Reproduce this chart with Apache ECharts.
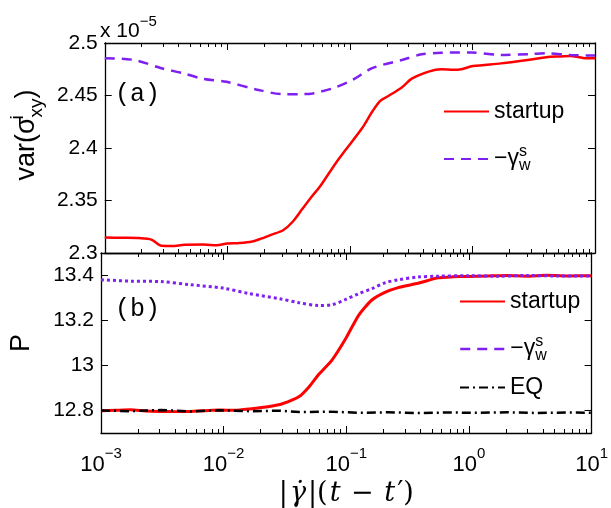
<!DOCTYPE html>
<html>
<head>
<meta charset="utf-8">
<script src="https://cdn.jsdelivr.net/npm/echarts@6/dist/echarts.min.js"></script>
<style>html,body{margin:0;padding:0;background:#fff}#c{width:611px;height:508px}</style>
</head>
<body>
<div id="c"></div>
<script>
// ---- data (panel a: var(sigma_xy^i) in units of 1e-5) ----
var aStartupX = [0.001,0.0014,0.0019,0.0024,0.0029,0.0035,0.0045,0.0064,0.0082,0.0100,0.0126,0.0160,0.0186,0.0230,0.0285,0.0343,0.0413,0.0498,0.0568,0.0764,0.092,0.126,0.152,0.176,0.201,0.265,0.32,0.439,0.558,0.70,0.81,1.01,1.71,2.82,4.33,5.2,6.28,8.0,10];
var aStartupY = [2.3147,2.3145,2.3142,2.3128,2.3068,2.3066,2.3078,2.3080,2.3074,2.3090,2.3095,2.3110,2.3134,2.3175,2.3217,2.3300,2.3426,2.3550,2.3630,2.3853,2.3980,2.4190,2.4345,2.4447,2.4488,2.4577,2.4660,2.4727,2.4750,2.4745,2.4750,2.4780,2.4806,2.4838,2.4870,2.4872,2.4876,2.4858,2.4854];
var aGammaX = [0.001,0.001745,0.00289,0.00443,0.00642,0.00986,0.01722,0.0285,0.0413,0.0498,0.0722,0.1047,0.152,0.265,0.385,0.558,0.977,1.71,2.98,3.95,6.28,10];
var aGammaY = [2.4855,2.4838,2.4760,2.4710,2.4657,2.4630,2.4558,2.4513,2.4513,2.4520,2.4568,2.4647,2.4760,2.4838,2.4892,2.4907,2.4910,2.4886,2.4895,2.4902,2.4886,2.4880];
// ---- data (panel b: P) ----
var bStartupX = [0.001,0.00132,0.001745,0.00231,0.00305,0.00404,0.00533,0.00705,0.00933,0.01233,0.01629,0.02364,0.0301,0.0413,0.0498,0.06,0.0764,0.099,0.126,0.1607,0.2084,0.265,0.3648,0.4645,0.558,0.7396,0.977,1.419,2.056,2.98,4.325,6.28,10];
var bStartupY = [12.799,12.801,12.803,12.798,12.796,12.795,12.796,12.799,12.802,12.801,12.807,12.818,12.830,12.862,12.906,12.962,13.024,13.120,13.223,13.290,13.326,13.346,13.363,13.378,13.390,13.394,13.396,13.398,13.400,13.397,13.401,13.398,13.399];
var bGammaX = [0.001,0.001745,0.00305,0.00533,0.00986,0.01629,0.0285,0.0413,0.06,0.0764,0.099,0.126,0.1607,0.2084,0.265,0.385,0.558,0.977,1.71,2.98,5.2,10];
var bGammaY = [13.381,13.375,13.373,13.359,13.344,13.319,13.297,13.279,13.267,13.270,13.294,13.319,13.341,13.368,13.381,13.393,13.397,13.399,13.397,13.400,13.398,13.398];
var eqX = [0.001,0.001745,0.00305,0.00533,0.00933,0.01629,0.0285,0.0413,0.0722,0.126,0.2204,0.385,0.673,1.177,2.056,3.595,6.28,10];
var eqY = [12.800,12.797,12.802,12.796,12.801,12.797,12.799,12.793,12.795,12.790,12.792,12.789,12.791,12.790,12.792,12.789,12.791,12.790];
// tick labels
var aTicks = [2.3,2.35,2.4,2.45,2.5];
var bTicks = [12.8,13,13.2,13.4];
var xDecades = [0.001,0.01,0.1,1,10];

function zip(xs, ys){ return xs.map(function(x,i){ return [x, ys[i]]; }); }
var minorLog = [];
for (var d = -3; d < 1; d++) for (var m = 2; m <= 9; m++) minorLog.push(d + Math.log10(m));

var FONT = 'Liberation Sans';
var RED = '#ff0000', PUR = '#7f1ff0';
var chart = echarts.init(document.getElementById('c'));

function majorX(grid, pos, labels) {
  return {
    type: 'log', logBase: 10, gridIndex: grid, position: pos, min: 0.001, max: 10,
    axisLine: { show: true, onZero: false, lineStyle: { color: '#000', width: 1.3 } },
    axisTick: { show: true, inside: true, length: 7, lineStyle: { color: '#000', width: 1 } },
    splitLine: { show: false },
    axisLabel: labels ? {
      show: true, margin: 13, color: '#000',
      formatter: function (v) {
        var e = Math.round(Math.log10(v));
        return '{b|10}{e|' + (e < 0 ? '\u2212' + (-e) : e) + '}';
      },
      rich: {
        b: { fontSize: 22, fontFamily: FONT, color: '#000', lineHeight: 30, verticalAlign: 'bottom' },
        e: { fontSize: 15, fontFamily: FONT, color: '#000', lineHeight: 30, verticalAlign: 'top' }
      }
    } : { show: false }
  };
}
function minorX(grid, pos) {
  return {
    type: 'value', gridIndex: grid, position: pos, min: -3, max: 1,
    axisLine: { show: false }, splitLine: { show: false }, axisLabel: { show: false },
    axisTick: { show: true, inside: true, length: 4, customValues: minorLog, lineStyle: { color: '#000', width: 1 } }
  };
}
function yAx(grid, pos, min, max, ticks, labels, extra) {
  var o = {
    type: 'value', gridIndex: grid, position: pos, min: min, max: max,
    axisLine: { show: true, onZero: false, lineStyle: { color: '#000', width: 1.3 } },
    axisTick: { show: true, inside: true, length: 7, customValues: ticks, lineStyle: { color: '#000', width: 1 } },
    splitLine: { show: false },
    axisLabel: labels ? {
      show: true, customValues: ticks, margin: 7, color: '#000', fontSize: 21, fontFamily: FONT,
      formatter: function (v) { return String(+(+v).toFixed(2)); }
    } : { show: false }
  };
  if (extra) for (var k in extra) o[k] = extra[k];
  return o;
}

var legRich = {
  t: { fontSize: 23, fontFamily: FONT, color: '#000', lineHeight: 30 },
  g: { fontSize: 23, fontFamily: FONT, color: '#000', lineHeight: 30 },
  s: { fontSize: 16, fontFamily: FONT, color: '#000', lineHeight: 30, verticalAlign: 'top', width: 0.01 },
  w: { fontSize: 16, fontFamily: FONT, color: '#000', lineHeight: 30, verticalAlign: 'bottom' }
};
function legFmt(name) {
  if (name.indexOf('gamma') === 0) return '{g|\u2212\u03b3}{s|s}{w|w}';
  if (name.indexOf('startup') === 0) return '{t|startup}';
  return '{t|EQ}';
}
function leg(name, left, cy, lineStyle) {
  var o = { orient: 'vertical', left: left, top: cy - 15, itemWidth: 45, itemHeight: 14,
    data: [name], formatter: legFmt, selectedMode: false,
    itemStyle: { opacity: 0 },
    textStyle: { rich: legRich } };
  if (lineStyle) o.lineStyle = lineStyle;
  return o;
}

var option = {
  animation: false,
  backgroundColor: '#fff',
  grid: [
    { left: 100, top: 43, width: 495, height: 210 },
    { left: 100, top: 253, width: 495, height: 180 }
  ],
  xAxis: [
    majorX(0, 'bottom', false),
    (function () { var a = majorX(1, 'bottom', true);
      a.name = '{p||}{i|\u03b3\u0307}{p||(}{i|t}{p| \u2212 }{i|t}{p|\u2032)}';
      a.nameLocation = 'middle'; a.nameGap = 47;
      a.nameTextStyle = { rich: {
        p: { fontSize: 27, fontFamily: 'DejaVu Serif', color: '#000', padding: [0, 1, 0, 1] },
        i: { fontSize: 27, fontFamily: 'DejaVu Serif', fontStyle: 'italic', color: '#000', padding: [0, 1, 0, 1] } } };
      return a; })(),
    majorX(0, 'top', false),
    majorX(1, 'top', false),
    minorX(0, 'bottom'), minorX(0, 'top'), minorX(1, 'bottom'), minorX(1, 'top')
  ],
  yAxis: [
    yAx(0, 'left', 2.3, 2.5, aTicks, true, {
      name: '{t|var(\u03c3}{s|i}{w|xy}{t|)}', nameLocation: 'middle', nameRotate: 90, nameGap: 56,
      nameTextStyle: { padding: [0, 0, 0, 26], rich: {
        t: { fontSize: 27, fontFamily: FONT, color: '#000', lineHeight: 38 },
        s: { fontSize: 19, fontFamily: FONT, color: '#000', lineHeight: 38, verticalAlign: 'top', width: 0.01 },
        w: { fontSize: 19, fontFamily: FONT, color: '#000', lineHeight: 38, verticalAlign: 'bottom' } } }
    }),
    yAx(1, 'left', 12.7, 13.5, bTicks, true, {
      name: 'P', nameLocation: 'middle', nameRotate: 90, nameGap: 66,
      nameTextStyle: { fontSize: 27, fontFamily: FONT, color: '#000' }
    }),
    yAx(0, 'right', 2.3, 2.5, aTicks, false),
    yAx(1, 'right', 12.7, 13.5, bTicks, false)
  ],
  legend: [
    leg('startup_a', 438, 110), leg('gamma_a', 438, 154),
    leg('startup_b', 454, 300), leg('gamma_b', 454, 344, { type: [10, 7], width: 2.5 }), leg('EQ', 454, 386)
  ],
  graphic: [
    { type: 'text', left: 100, top: 14, style: { text: '{a|x 10}{b|\u22125}', rich: {
        a: { fontSize: 21, fontFamily: FONT, fill: '#000', lineHeight: 28, verticalAlign: 'bottom' },
        b: { fontSize: 15, fontFamily: FONT, fill: '#000', lineHeight: 28, verticalAlign: 'top' } } } },
    { type: 'text', left: 115, top: 82, style: { text: '(a)', font: '25px "Liberation Mono"', fill: '#000' } },
    { type: 'text', left: 115, top: 297, style: { text: '(b)', font: '25px "Liberation Mono"', fill: '#000' } }
  ],
  series: [
    { name: 'startup_a', type: 'line', xAxisIndex: 0, yAxisIndex: 0, data: zip(aStartupX, aStartupY),
      showSymbol: false, symbol: 'none', smooth: 0.3, lineStyle: { color: RED, width: 2.5 }, itemStyle: { color: RED } },
    { name: 'gamma_a', type: 'line', xAxisIndex: 0, yAxisIndex: 0, data: zip(aGammaX, aGammaY),
      showSymbol: false, symbol: 'none', smooth: 0.3, lineStyle: { color: PUR, width: 2.5, type: [10, 7] }, itemStyle: { color: PUR } },
    { name: 'startup_b', type: 'line', xAxisIndex: 1, yAxisIndex: 1, data: zip(bStartupX, bStartupY),
      showSymbol: false, symbol: 'none', smooth: 0.2, lineStyle: { color: RED, width: 3 }, itemStyle: { color: RED } },
    { name: 'gamma_b', type: 'line', xAxisIndex: 1, yAxisIndex: 1, data: zip(bGammaX, bGammaY),
      showSymbol: false, symbol: 'none', smooth: 0.3, lineStyle: { color: PUR, width: 3, type: [3, 3] }, itemStyle: { color: PUR } },
    { name: 'EQ', type: 'line', xAxisIndex: 1, yAxisIndex: 1, data: zip(eqX, eqY),
      showSymbol: false, symbol: 'none', lineStyle: { color: '#000', width: 2.5, type: [9, 4, 2, 4] }, itemStyle: { color: '#000' } }
  ]
};
chart.setOption(option);
</script>
</body>
</html>
